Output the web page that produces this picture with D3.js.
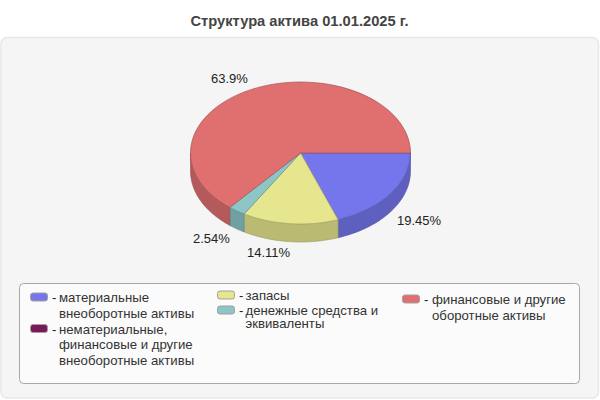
<!DOCTYPE html>
<html><head><meta charset="utf-8">
<script src="https://cdnjs.cloudflare.com/ajax/libs/d3/7.8.5/d3.min.js"></script>
<style>html,body{margin:0;padding:0;background:#fff}svg{display:block}text{font-family:"Liberation Sans",Arial,sans-serif}</style>
</head><body><svg id="c" width="600" height="400"></svg>
<script>
const title = "Структура актива 01.01.2025 г.";
const categories = ["материальные внеоборотные активы","нематериальные, финансовые и другие внеоборотные активы","запасы","денежные средства и эквиваленты","финансовые и другие оборотные активы"];
const values = [19.45, 0, 14.11, 2.54, 63.9];
const valueLabels = ["19.45%", "", "14.11%", "2.54%", "63.9%"];
const colors = ["#7676ec", "#771a57", "#e6e68f", "#8cc6c6", "#e07070"];
const legendLines = [["материальные","внеоборотные активы"],["нематериальные,","финансовые и другие","внеоборотные активы"],["запасы"],["денежные средства и","эквиваленты"],["финансовые и другие","оборотные активы"]];

const svg = d3.select("#c");
const cx = 300.5, cy = 153, rx = 110, ry = 71, depth = 18;
svg.append("text").attr("x",299.5).attr("y",26).attr("text-anchor","middle").attr("font-size",14.7).attr("font-weight","bold").attr("fill","#444").text(title);
svg.append("rect").attr("x",1).attr("y",37.5).attr("width",597.5).attr("height",360.5).attr("rx",6).attr("fill","#f5f5f5").attr("stroke","#e8e8e8").attr("stroke-width",1.5);

const pie = d3.pie().sort(null).value(d=>d).startAngle(Math.PI/2).endAngle(Math.PI*2.5);
const arcs = pie(values);
const arc = d3.arc().innerRadius(0).outerRadius(rx);
const px = a => cx + rx*Math.sin(a), py = a => cy - ry*Math.cos(a);

const side = svg.append("g");
arcs.forEach((d,i)=>{
  if(d.value===0) return;
  const a0 = Math.max(d.startAngle, Math.PI/2), a1 = Math.min(d.endAngle, Math.PI*1.5);
  if(a1<=a0) return;
  const n = 60, top = d3.range(n+1).map(k=>a0+(a1-a0)*k/n);
  const pts = top.map(a=>[px(a),py(a)]).concat(top.slice().reverse().map(a=>[px(a),py(a)+depth]));
  const base = d3.color(colors[i]);
  side.append("path").attr("d",d3.line()(pts)+"Z")
    .attr("fill",base.darker(0.6)).attr("stroke",base.darker(1.1)).attr("stroke-width",0.6);
});
const topG = svg.append("g").attr("transform",`translate(${cx},${cy}) scale(1,${ry/rx})`);
topG.selectAll("path").data(arcs.filter(d=>d.value>0)).join("path").attr("d",arc)
  .attr("fill",d=>colors[d.index]).attr("stroke",d=>d3.color(colors[d.index]).darker(0.9)).attr("stroke-width",0.7).attr("vector-effect","non-scaling-stroke");

const labelPos = [[397,225],null,[247,257],[193,243],[211,83]];
arcs.forEach((d,i)=>{ if(labelPos[i]) svg.append("text").attr("x",labelPos[i][0]).attr("y",labelPos[i][1]).attr("font-size",13).attr("fill","#222").text(valueLabels[i]); });

svg.append("rect").attr("x",19.5).attr("y",283.5).attr("width",560).attr("height",100).attr("rx",4).attr("fill","#fbfbfb").attr("stroke","#a8a8a8");
const legendX = [30,217,402], textX=[59,245.5,432];
const legendLayout = [{col:0,y:302,lh:15.7},{col:0,y:333.5,lh:15.7},{col:1,y:300,lh:15},{col:1,y:315,lh:12.5},{col:2,y:304,lh:15.7}];
legendLayout.forEach((l,i)=>{
  svg.append("rect").attr("x",legendX[l.col]+.5).attr("y",l.y-9).attr("width",17).attr("height",8).attr("rx",2.5).attr("fill",colors[i]).attr("stroke","#a0a0a0");
  svg.append("text").attr("x",legendX[l.col]+22).attr("y",l.y).attr("font-size",13).attr("fill","#222").text("-");
  legendLines[i].forEach((t,k)=>svg.append("text").attr("x",textX[l.col]).attr("y",l.y+k*l.lh).attr("font-size",13.2).attr("fill","#333").text(t));
});
</script></body></html>
